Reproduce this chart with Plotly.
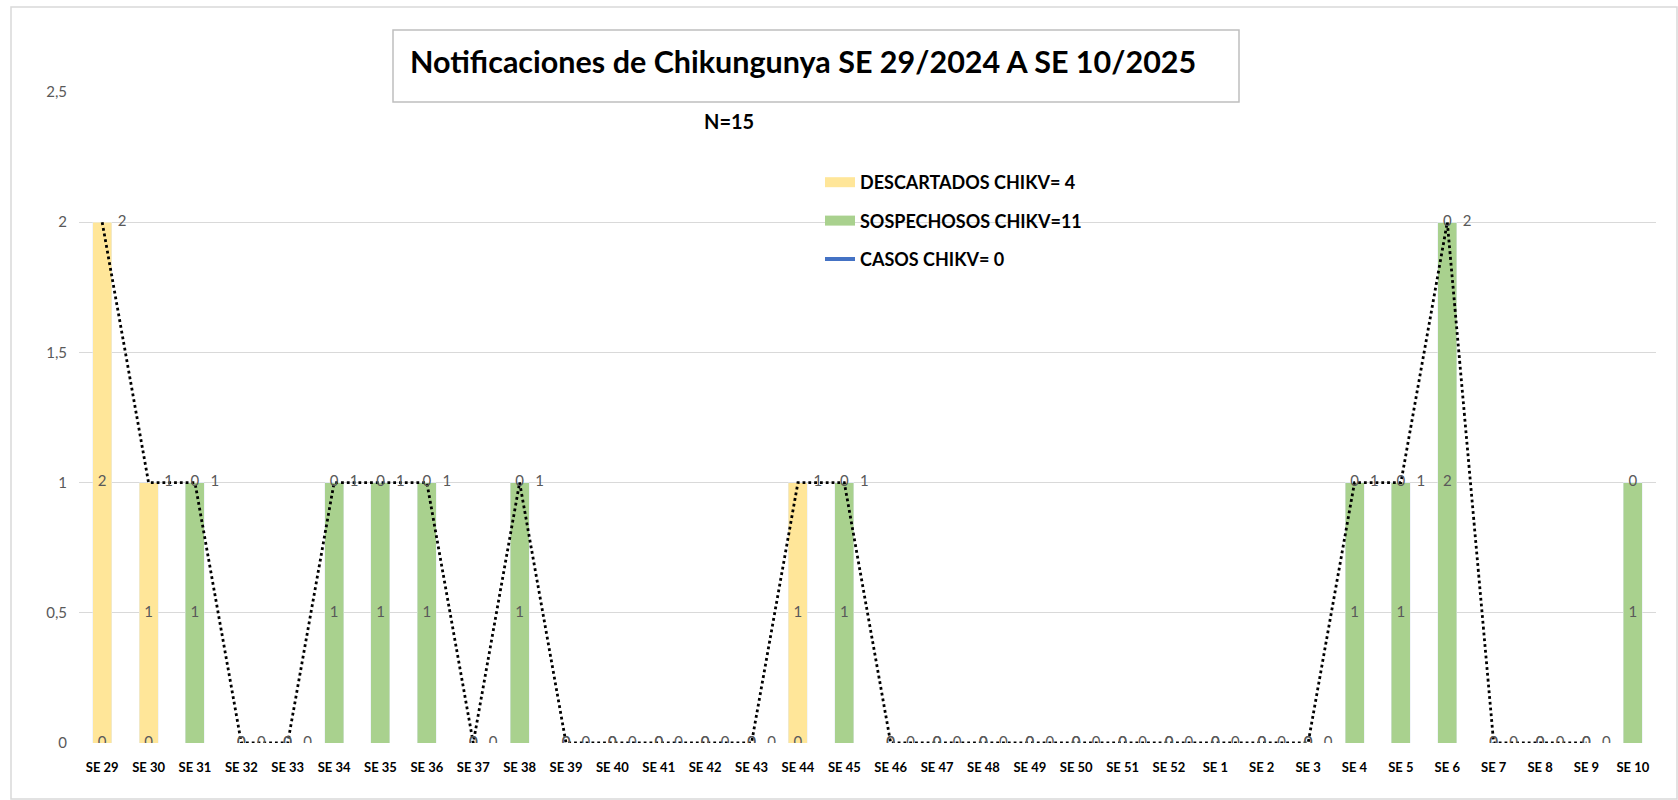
import plotly.graph_objects as go

# ---------------- data ----------------
semanas = [f"SE {w}" for w in range(29, 53)] + [f"SE {w}" for w in range(1, 11)]
descartados = [2, 1, 0, 0, 0, 0, 0, 0, 0, 0, 0, 0, 0, 0, 0, 1, 0, 0, 0, 0, 0, 0, 0, 0,
               0, 0, 0, 0, 0, 0, 0, 0, 0, 0]
sospechosos = [0, 0, 1, 0, 0, 1, 1, 1, 0, 1, 0, 0, 0, 0, 0, 0, 1, 0, 0, 0, 0, 0, 0, 0,
               0, 0, 0, 1, 1, 2, 0, 0, 0, 1]
totales = [2, 1, 1, 0, 0, 1, 1, 1, 0, 1, 0, 0, 0, 0, 0, 1, 1, 0, 0, 0, 0, 0, 0, 0,
           0, 0, 0, 1, 1, 2, 0, 0, 0, None]
casos = [0] * 34

titulo = "Notificaciones de Chikungunya SE 29/2024 A SE 10/2025"
subtitulo = "N=15"
nombres = ["DESCARTADOS CHIKV= 4", "SOSPECHOSOS CHIKV=11", "CASOS CHIKV= 0"]

# ---------------- styles ----------------
C_DESC = "#FFE699"
C_SOSP = "#A9D18E"
C_CASOS = "#4472C4"
LBL = "#595959"
FONT = "Lato, 'Open Sans', sans-serif"
NARROW = "'Liberation Sans Narrow', Lato, sans-serif"

W, H = 1678, 800
PL, PR, PT, PB = 79, 1656, 92, 743   # plot area in pixels


def xp(px):
    return (px - PL) / (PR - PL)


def yp(py):
    return (PB - py) / (PB - PT)


xs = list(range(len(semanas)))

fig = go.Figure()

# stacked bars: sospechosos bottom, descartados on top
fig.add_trace(go.Bar(x=xs, y=sospechosos, marker_color=C_SOSP, width=0.41,
                     showlegend=False, hoverinfo="skip"))
fig.add_trace(go.Bar(x=xs, y=descartados, marker_color=C_DESC, width=0.41,
                     showlegend=False, hoverinfo="skip"))

# dotted total line
lx = [x for x, t in zip(xs, totales) if t is not None]
ly = [t for t in totales if t is not None]
fig.add_trace(go.Scatter(x=lx, y=ly, mode="lines",
                         line=dict(color="black", width=2.8, dash="2.8px,3px"),
                         showlegend=False, hoverinfo="skip"))

# data labels for the bars (centred in each stacked segment)
fig.add_trace(go.Scatter(x=xs, y=[s / 2 for s in sospechosos], mode="text",
                         text=[str(s) for s in sospechosos],
                         textfont=dict(family=FONT, size=15, color=LBL),
                         showlegend=False, hoverinfo="skip"))
fig.add_trace(go.Scatter(x=xs, y=[s + d / 2 for s, d in zip(sospechosos, descartados)],
                         mode="text", text=[str(d) for d in descartados],
                         textfont=dict(family=FONT, size=15, color=LBL),
                         showlegend=False, hoverinfo="skip"))
# labels for the line, to the right of each point
fig.add_trace(go.Scatter(x=[x + 0.43 for x in lx], y=ly, mode="text",
                         text=[str(v) for v in ly],
                         textfont=dict(family=FONT, size=15, color=LBL),
                         showlegend=False, hoverinfo="skip"))

# legend entries
fig.add_trace(go.Scatter(x=[None], y=[None], mode="lines", name=nombres[0],
                         line=dict(color=C_DESC, width=12), legendgroup="a"))
fig.add_trace(go.Scatter(x=[None], y=[None], mode="lines", name=nombres[1],
                         line=dict(color=C_SOSP, width=12), legendgroup="b"))
fig.add_trace(go.Scatter(x=[None], y=[None], mode="lines", name=nombres[2],
                         line=dict(color=C_CASOS, width=4), legendgroup="c"))

shapes = [
    # outer chart border
    dict(type="rect", xref="paper", yref="paper", x0=xp(11), x1=xp(1677), y0=yp(799),
         y1=yp(7), line=dict(color="#D9D9D9", width=1.5), fillcolor="rgba(0,0,0,0)",
         layer="below"),
    # title box
    dict(type="rect", xref="paper", yref="paper", x0=xp(393), x1=xp(1239), y0=yp(102),
         y1=yp(30), line=dict(color="#BFBFBF", width=1.5), fillcolor="white",
         layer="above"),
]

annotations = [
    dict(text=f"<b>{titulo}</b>", xref="paper", yref="paper", x=xp(803), y=yp(61),
         xanchor="center", yanchor="middle", showarrow=False,
         font=dict(family=FONT, size=30.5, color="black")),
    dict(text=f"<b>{subtitulo}</b>", xref="paper", yref="paper", x=xp(729), y=yp(121),
         xanchor="center", yanchor="middle", showarrow=False,
         font=dict(family=FONT, size=20, color="black")),
]

fig.update_layout(
    width=W, height=H,
    margin=dict(l=PL, r=W - PR, t=PT, b=H - PB, pad=0, autoexpand=False),
    paper_bgcolor="white", plot_bgcolor="white",
    barmode="stack", bargap=0.59,
    separators=",.",
    shapes=shapes, annotations=annotations,
    showlegend=True,
    legend=dict(xref="paper", yref="paper", x=xp(820), y=yp(164),
                xanchor="left", yanchor="top", bgcolor="rgba(0,0,0,0)",
                font=dict(family=NARROW, size=18, color="black", weight="bold"),
                tracegroupgap=12, itemwidth=30, traceorder="grouped"),
    xaxis=dict(range=[-0.5, len(semanas) - 0.5], tickmode="array", tickvals=xs,
               ticktext=[f"<b>{s}</b>" for s in semanas], showgrid=False,
               zeroline=False, showline=False, ticks="", tickangle=0,
               tickfont=dict(family=FONT, size=13, color="black"),
               ticklabelstandoff=15),
    yaxis=dict(range=[0, 2.5], tickvals=[0, 0.5, 1, 1.5, 2, 2.5], showgrid=True,
               gridcolor="#D9D9D9", gridwidth=1.3, zeroline=False, showline=False,
               ticks="", tickfont=dict(family=FONT, size=15, color=LBL),
               ticklabelstandoff=11),
)

fig.write_html("out.html", config={"displayModeBar": False},
               post_script="document.body.style.margin='0';")
